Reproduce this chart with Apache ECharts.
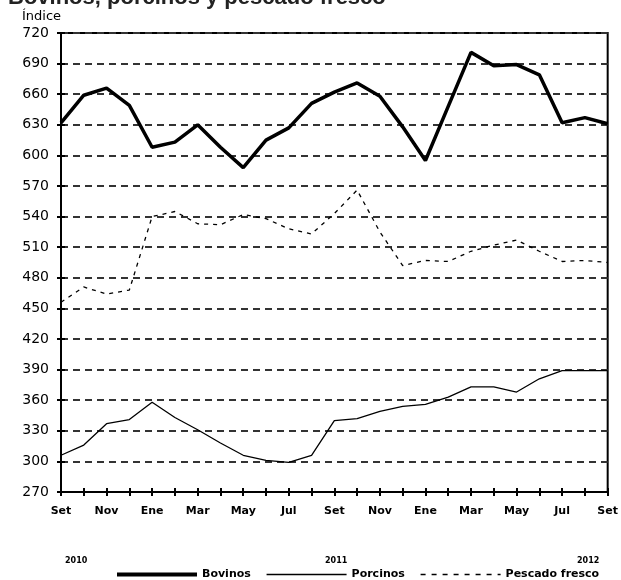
<!DOCTYPE html>
<html>
<head>
<meta charset="utf-8">
<script src="https://cdn.jsdelivr.net/npm/echarts@6/dist/echarts.min.js"></script>
<style>
  html, body { margin: 0; padding: 0; background: #fff; }
  #chart { width: 621px; height: 580px; }
</style>
</head>
<body>
<div id="chart"></div>
<script>
// meses de Set 2010 a Set 2012
const months = ['Set', 'Oct', 'Nov', 'Dic', 'Ene', 'Feb', 'Mar', 'Abr', 'May', 'Jun', 'Jul', 'Ago',
  'Set', 'Oct', 'Nov', 'Dic', 'Ene', 'Feb', 'Mar', 'Abr', 'May', 'Jun', 'Jul', 'Ago', 'Set']
const years = ['2010', '2011', '2012']

const bovinos = [632, 659, 666, 649, 608, 613, 630, 608, 588, 615, 627, 651,
  662, 671, 658, 628, 595, 648, 701, 688, 689, 679, 632, 637, 631]
const porcinos = [306, 316, 337, 341, 358, 343, 331, 318, 306, 301, 299, 306,
  340, 342, 349, 354, 356, 363, 373, 373, 368, 381, 389, 389, 389]
const pescado = [456, 471, 464, 468, 540, 545, 533, 532, 542, 538, 528, 523,
  543, 566, 525, 492, 497, 496, 506, 512, 517, 506, 496, 497, 495]

const chart = echarts.init(document.getElementById('chart'))

const axisFont = 'DejaVu Sans'

const option = {
  animation: false,
  backgroundColor: '#fff',
  grid: {
    left: 61, right: 12, top: 33, bottom: 88,
    show: true, borderColor: '#000', borderWidth: 2
  },
  legend: {
    left: 110,
    top: 564,
    itemWidth: 80,
    itemHeight: 12,
    itemGap: 15,
    itemStyle: { opacity: 0 },
    textStyle: { fontFamily: axisFont, fontSize: 11, fontWeight: 'bold', color: '#000' },
    data: [
      { name: 'Bovinos', lineStyle: { width: 4, color: '#000' } },
      { name: 'Porcinos', lineStyle: { width: 1.5, color: '#000' } },
      { name: 'Pescado fresco', lineStyle: { width: 1.5, color: '#000', type: [5, 6] } }
    ]
  },
  graphic: [
    {
      type: 'text', left: 8, top: -13,
      style: { text: 'Bovinos, porcinos y pescado fresco', font: 'bold 22px "Liberation Sans"', fill: '#222' }
    },
    {
      type: 'text', left: 22, top: 10,
      style: { text: 'Índice', font: '13px "DejaVu Sans"', fill: '#000' }
    },
    ...years.map((y, i) => ({
      type: 'text',
      left: [65, 325, 577][i],
      top: 557,
      style: { text: y, font: 'bold 8px "DejaVu Sans"', fill: '#000' }
    }))
  ],
  xAxis: [
    {
      type: 'category',
      data: months,
      boundaryGap: false,
      axisLine: { lineStyle: { color: '#000', width: 2 } },
      axisTick: { show: true, interval: 0, length: 4, lineStyle: { color: '#000', width: 2 } },
      axisLabel: { interval: 1, margin: 14, fontFamily: axisFont, fontSize: 11, fontWeight: 'bold', color: '#000' }
    },
    {
      type: 'category',
      data: months,
      boundaryGap: false,
      position: 'bottom',
      axisLine: { show: false },
      axisTick: { show: true, inside: true, interval: 0, length: 4, lineStyle: { color: '#000', width: 2 } },
      axisLabel: { show: false }
    }
  ],
  yAxis: [
    {
      type: 'value',
      min: 270, max: 720, interval: 30,
      axisLine: { show: true, lineStyle: { color: '#000', width: 2 } },
      axisTick: { show: true, length: 4, lineStyle: { color: '#000', width: 2 } },
      axisLabel: { margin: 12, fontFamily: axisFont, fontSize: 14, color: '#000' },
      splitLine: { show: true, lineStyle: { color: '#333', width: 2, type: [7, 5] } }
    },
    {
      type: 'value',
      min: 270, max: 720, interval: 30,
      position: 'left',
      axisLine: { show: false },
      axisTick: { show: true, inside: true, length: 4, lineStyle: { color: '#000', width: 2 } },
      axisLabel: { show: false },
      splitLine: { show: false }
    }
  ],
  series: [
    {
      name: 'Bovinos', type: 'line', data: bovinos, symbol: 'none',
      lineStyle: { color: '#000', width: 3.5 }, itemStyle: { color: '#000' }
    },
    {
      name: 'Porcinos', type: 'line', data: porcinos, symbol: 'none',
      lineStyle: { color: '#000', width: 1.3 }, itemStyle: { color: '#000' }
    },
    {
      name: 'Pescado fresco', type: 'line', data: pescado, symbol: 'none',
      lineStyle: { color: '#000', width: 1.3, type: [4, 5] }, itemStyle: { color: '#000' }
    }
  ]
}

chart.setOption(option)
</script>
</body>
</html>
